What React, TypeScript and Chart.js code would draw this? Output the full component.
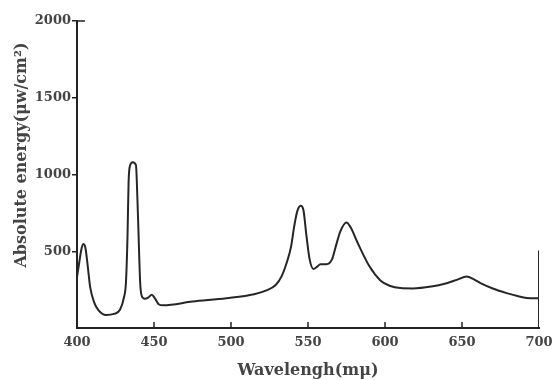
import React, { useEffect, useRef } from "react";
import { Chart, registerables } from "chart.js";

Chart.register(...registerables);

const wavelengths = [
  400, 401.5, 403, 404.2, 405.5, 407, 408.5, 411, 414, 419, 424, 428, 430.5, 431.8,
  432.8, 433.5, 434.5, 436.2, 438.3, 439.2, 440, 441, 442, 444, 446.5, 448.5, 450.5,
  453, 456, 475, 497, 515, 523, 529, 533, 536, 539, 541, 543, 545.3, 547, 549, 551,
  553.5, 556, 558, 562, 565.5, 568, 571, 575, 578, 582, 590, 597, 603, 610, 618, 630,
  640, 647, 653, 658, 662, 670, 679, 686, 692, 700,
];
const energy = [
  330, 430, 520, 547, 520, 400, 270, 170, 115, 85, 92, 120, 200, 300,
  600, 950, 1060, 1080, 1060, 850, 600, 300, 210, 190, 200, 216, 195,
  155, 148, 172, 194, 220, 245, 280, 340, 420, 530, 660, 760, 797, 770, 600, 450,
  385, 400, 415, 415, 445, 530, 630, 688, 650, 560, 400, 310, 275, 260, 258, 270,
  292, 315, 335, 315, 292, 257, 227, 208, 196, 194,
];
const edgeX = [700, 700];
const edgeY = [0, 505];

const xTicks = [400, 450, 500, 550, 600, 650, 700];
const yTicks = [0, 500, 1000, 1500, 2000];

const INK = "#222";
const TEXT = "#444";
const FONT = "'DejaVu Serif', serif";

const innerTicks = {
  id: "innerTicks",
  afterDatasetsDraw(chart: any) {
    const { ctx, scales } = chart;
    const x = scales.x;
    const y = scales.y;
    ctx.save();
    ctx.strokeStyle = INK;
    ctx.lineWidth = 1.5;
    xTicks.slice(1, -1).forEach((v) => {
      const px = x.getPixelForValue(v);
      ctx.beginPath();
      ctx.moveTo(px, y.bottom);
      ctx.lineTo(px, y.bottom - 6);
      ctx.stroke();
    });
    const top = y.getPixelForValue(2000);
    ctx.beginPath();
    ctx.moveTo(x.left, top);
    ctx.lineTo(x.left + 8, top);
    ctx.stroke();
    ctx.restore();
  },
};

export default function App() {
  const ref = useRef<HTMLCanvasElement>(null);
  useEffect(() => {
    document.body.style.margin = "0";
    const chart = new Chart(ref.current!, {
      type: "scatter",
      data: {
        datasets: [
          {
            data: wavelengths.map((w, i) => ({ x: w, y: energy[i] })),
            showLine: true,
            borderColor: "#262626",
            borderWidth: 2,
            pointRadius: 0,
            cubicInterpolationMode: "monotone",
          },
          {
            data: edgeX.map((w, i) => ({ x: w, y: edgeY[i] })),
            showLine: true,
            borderColor: "#262626",
            borderWidth: 2,
            pointRadius: 0,
          },
        ],
      },
      options: {
        animation: false,
        responsive: true,
        maintainAspectRatio: false,
        layout: { padding: { top: 21, right: 17, left: 0, bottom: 0 } },
        plugins: { legend: { display: false }, tooltip: { enabled: false } },
        scales: {
          x: {
            type: "linear",
            min: 400,
            max: 700,
            afterBuildTicks: (s: any) => {
              s.ticks = xTicks.map((v) => ({ value: v }));
            },
            afterFit: (s: any) => {
              s.height = 52;
              s.paddingRight = 0;
              s.paddingLeft = 0;
            },
            grid: { drawOnChartArea: false, drawTicks: false },
            border: { color: INK, width: 2 },
            ticks: {
              color: TEXT,
              padding: 7,
              font: { family: FONT, size: 13, weight: "bold" },
            },
            title: {
              display: true,
              text: "Wavelengh(mμ)",
              color: TEXT,
              padding: { top: 1, bottom: 0 },
              font: { family: FONT, size: 16, weight: "bold" },
            },
          },
          y: {
            min: 0,
            max: 2000,
            afterBuildTicks: (s: any) => {
              s.ticks = yTicks.map((v) => ({ value: v }));
            },
            afterFit: (s: any) => {
              s.width = 77;
            },
            grid: {
              drawOnChartArea: false,
              drawTicks: true,
              tickLength: 5,
              color: (c: any) => (c.tick && c.tick.value === 0 ? "rgba(0,0,0,0)" : INK),
              lineWidth: 1.5,
            },
            border: { color: INK, width: 2 },
            ticks: {
              color: TEXT,
              padding: 1,
              font: { family: FONT, size: 13, weight: "bold" },
              callback: (v: any) => (v === 0 ? "" : String(v)),
            },
            title: {
              display: true,
              text: "       Absolute energy(μw/cm²)",
              color: TEXT,
              padding: { top: 12, bottom: 0 },
              font: { family: FONT, size: 16, weight: "bold" },
            },
          },
        },
      },
      plugins: [innerTicks],
    });
    return () => chart.destroy();
  }, []);
  return (
    <div style={{ width: 556, height: 380, position: "relative" }}>
      <canvas ref={ref} />
    </div>
  );
}
